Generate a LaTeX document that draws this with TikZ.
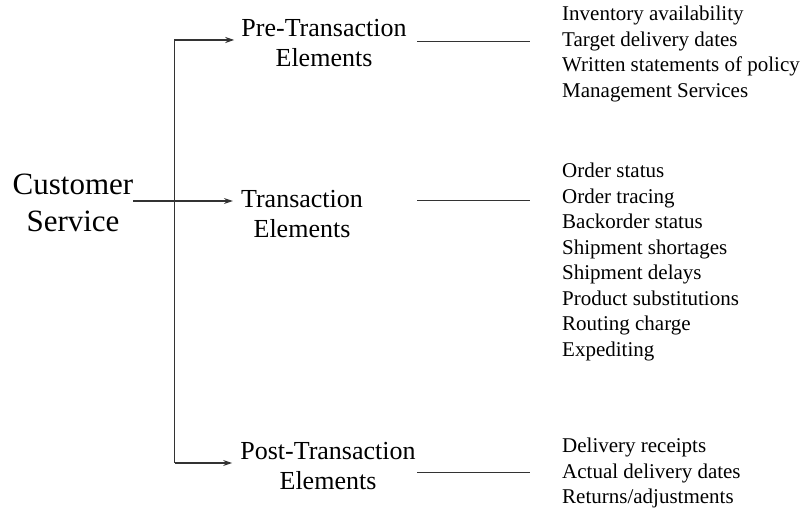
\documentclass[tikz,border=0pt]{standalone}
\usepackage{fontspec}
\setmainfont{Liberation Serif}
\usetikzlibrary{arrows.meta}
\begin{document}
\begin{tikzpicture}[x=1pt,y=-1pt,
  conn/.style={line width=1.1pt,draw=black!80},
  arr/.style={conn,-{Stealth[length=9pt,width=6pt]}},
  rootlbl/.style={inner sep=0pt,anchor=base,align=center,font=\fontsize{31}{37}\selectfont},
  grplbl/.style={inner sep=0pt,anchor=base,align=center,font=\fontsize{26}{30}\selectfont},
  itemlist/.style={inner sep=0pt,anchor=base west,align=left,font=\fontsize{21}{25.5}\selectfont}]
\useasboundingbox (0,0) rectangle (807,510);

% anchor=base is the baseline of the last line
\node[rootlbl] (cs) at (73,232) {Customer\\Service};
\node[grplbl] (pre) at (324,66.5) {Pre-Transaction\\Elements};
\node[grplbl] (tr) at (302,238) {Transaction\\Elements};
\node[grplbl] (post) at (328,490) {Post-Transaction\\Elements};

\node[itemlist] (prel) at (562,97.2) {Inventory availability\\Target delivery dates\\Written statements of policy\\Management Services};
\node[itemlist] (trl) at (562,356.5) {Order status\\Order tracing\\Backorder status\\Shipment shortages\\Shipment delays\\Product substitutions\\Routing charge\\Expediting};
\node[itemlist] (postl) at (562,504) {Delivery receipts\\Actual delivery dates\\Returns/adjustments};

\coordinate (top) at (174.5,40);
\coordinate (mid) at (174.5,201);
\coordinate (bot) at (174.5,463);

\draw[arr,shorten >=7pt] (bot) -- (top) -- (top -| pre.west);
\draw[arr,shorten >=8pt] (cs.east |- mid) -- (mid -| tr.west);
\draw[arr,shorten >=8pt] (bot) -- (bot -| post.west);

\coordinate (pa) at (417,41.7);
\coordinate (pb) at (530,41.7);
\coordinate (ta) at (417,200.7);
\coordinate (tb) at (530,200.7);
\coordinate (qa) at (417,472.7);
\coordinate (qb) at (530,472.7);
\draw[conn] (pa) -- (pb);
\draw[conn] (ta) -- (tb);
\draw[conn] (qa) -- (qb);
\end{tikzpicture}
\end{document}
